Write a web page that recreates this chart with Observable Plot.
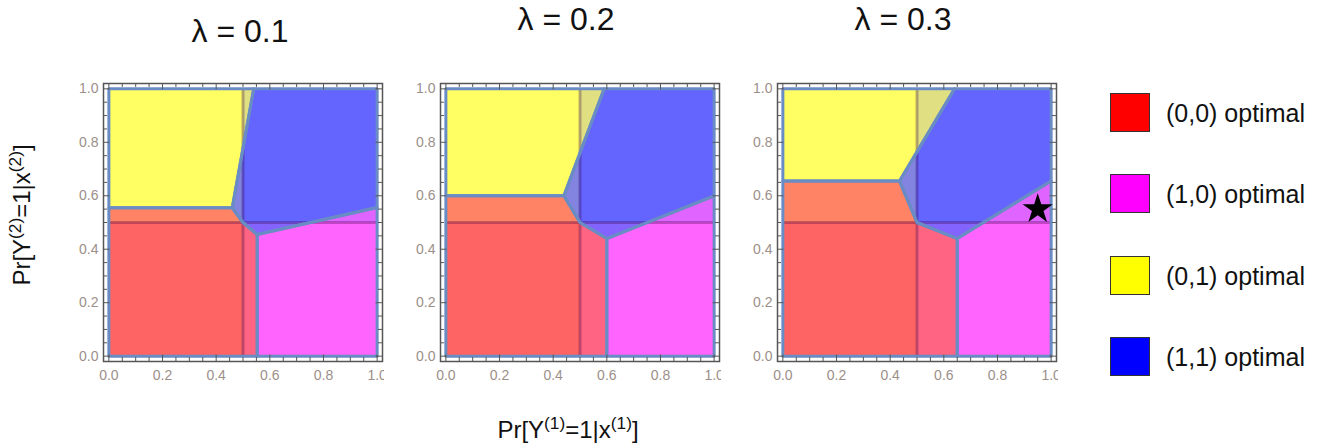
<!DOCTYPE html>
<html><head><meta charset="utf-8">
<script src="https://cdn.jsdelivr.net/npm/d3@7"></script>
<script src="https://cdn.jsdelivr.net/npm/@observablehq/plot@0.6"></script>
<style>
body{margin:0;background:#fff;font-family:"Liberation Sans",Arial,sans-serif;color:#111;}
#wrap{position:relative;width:1330px;height:448px;overflow:hidden;background:#fff;}
.abs{position:absolute;white-space:nowrap;}
.title{font-size:32px;transform:translate(-50%,-50%);}
.axlab{font-size:24px;transform:translate(-50%,-50%);}
.axlab sup{font-size:0.72em;vertical-align:0.5em;line-height:0;}
.leg{font-size:25px;transform:translateY(-50%);}
.sw{position:absolute;width:40px;height:39px;border:1px solid #333;box-sizing:border-box;}
.panel{position:absolute;}
</style></head><body><div id="wrap"></div>
<script>
// ---------------- data ----------------
const lambdaLabels = ["λ = 0.1", "λ = 0.2", "λ = 0.3"];
const regionNames = ["(0,0) optimal", "(1,0) optimal", "(0,1) optimal", "(1,1) optimal"];
const regionColors = ["#ff6464", "#ff64ff", "#ffff64", "#6464ff"];
const legendColors = ["#ff0000", "#ff00ff", "#ffff00", "#0000ff"];
const threshold = 0.5;

// optimal-decision regions, one polygon per panel ([x, y] vertices)
const redRegion = [
  [[0,0],[0.553,0],[0.553,0.455],[0.5,0.5],[0.46,0.555],[0,0.555]],
  [[0,0],[0.6,0],[0.6,0.44],[0.5,0.5],[0.44,0.6],[0,0.6]],
  [[0,0],[0.65,0],[0.65,0.44],[0.5,0.5],[0.435,0.655],[0,0.655]]
];
const magentaRegion = [
  [[0.553,0],[1,0],[1,0.556],[0.553,0.455]],
  [[0.6,0],[1,0],[1,0.6],[0.6,0.44]],
  [[0.65,0],[1,0],[1,0.655],[0.65,0.44]]
];
const yellowRegion = [
  [[0,0.555],[0.46,0.555],[0.54,1],[0,1]],
  [[0,0.6],[0.44,0.6],[0.59,1],[0,1]],
  [[0,0.655],[0.435,0.655],[0.64,1],[0,1]]
];
const blueRegion = [
  [[0.54,1],[1,1],[1,0.556],[0.553,0.455],[0.5,0.5],[0.46,0.555]],
  [[0.59,1],[1,1],[1,0.6],[0.6,0.44],[0.5,0.5],[0.44,0.6]],
  [[0.64,1],[1,1],[1,0.655],[0.65,0.44],[0.5,0.5],[0.435,0.655]]
];
// baseline quadrants (split at threshold)
const quadrants = [
  {x1:0, x2:0.5, y1:0, y2:0.5, color:"#ff6464"},
  {x1:0.5, x2:1, y1:0, y2:0.5, color:"#ff64ff"},
  {x1:0, x2:0.5, y1:0.5, y2:1, color:"#ffff64"},
  {x1:0.5, x2:1, y1:0.5, y2:1, color:"#6464ff"}
];
const starPoints = [[], [], [{x:0.95, y:0.55}]];
const tickValues = [0, 0.2, 0.4, 0.6, 0.8, 1.0];
const minorTickValues = [0,0.05,0.1,0.15,0.2,0.25,0.3,0.35,0.4,0.45,0.5,0.55,0.6,0.65,0.7,0.75,0.8,0.85,0.9,0.95,1.0];

// ---------------- layout ----------------
const wrap = document.getElementById("wrap");
const frameLefts = [102.6, 439.6, 776.6];
const frameTop = 82.7;
const mL = 40, mR = 2, mT = 4, mB = 32, fw = 279, fh = 278;
const lo = -0.02, hi = 1.02;
const tickLen = 0.015, majorLen = 0.024;
const boundary = "#6a8cc4";

function closed(p) { return [...p, p[0]]; }

function panel(i) {
  const polys = [redRegion[i], magentaRegion[i], yellowRegion[i], blueRegion[i]];
  const marks = [];
  polys.forEach((p, k) => marks.push(Plot.line(closed(p), {x: d => d[0], y: d => d[1], fill: regionColors[k], stroke: "none"})));
  marks.push(Plot.rect(quadrants, {x1: "x1", x2: "x2", y1: "y1", y2: "y2", fill: "color", fillOpacity: 0.2}));
  marks.push(Plot.ruleX([threshold], {y1: 0, y2: 1, stroke: "#300040", strokeOpacity: 0.3, strokeWidth: 3}));
  marks.push(Plot.ruleY([threshold], {x1: 0, x2: 1, stroke: "#300040", strokeOpacity: 0.3, strokeWidth: 3}));
  polys.forEach(p => marks.push(Plot.line(closed(p), {x: d => d[0], y: d => d[1], stroke: boundary, strokeWidth: 3, strokeLinejoin: "round"})));
  marks.push(Plot.dot(starPoints[i], {x: "x", y: "y", symbol: "star", r: 9.5, fill: "black", stroke: "none"}));
  // frame ticks (inward)
  const isMajor = v => tickValues.some(t => Math.abs(t - v) < 1e-9);
  const len = v => isMajor(v) ? majorLen : tickLen;
  const tk = {stroke: "#555", strokeWidth: 1};
  marks.push(Plot.ruleX(minorTickValues, {x: d => d, y1: lo, y2: d => lo + len(d), ...tk}));
  marks.push(Plot.ruleX(minorTickValues, {x: d => d, y1: hi, y2: d => hi - len(d), ...tk}));
  marks.push(Plot.ruleY(minorTickValues, {y: d => d, x1: lo, x2: d => lo + len(d), ...tk}));
  marks.push(Plot.ruleY(minorTickValues, {y: d => d, x1: hi, x2: d => hi - len(d), ...tk}));
  marks.push(Plot.frame({stroke: "#555", strokeWidth: 1.5}));
  marks.push(Plot.axisX(tickValues, {tickSize: 0, tickPadding: 9, tickFormat: d3.format(".1f"), fontSize: 14, color: "#9c8f8a", label: null}));
  marks.push(Plot.axisY(tickValues, {tickSize: 0, tickPadding: 5, tickFormat: d3.format(".1f"), fontSize: 14, color: "#9c8f8a", label: null}));
  const svg = Plot.plot({
    width: mL + fw + mR, height: mT + fh + mB,
    marginLeft: mL, marginRight: mR, marginTop: mT, marginBottom: mB,
    x: {domain: [lo, hi]}, y: {domain: [lo, hi]},
    color: {type: "identity"},
    style: {overflow: "hidden", background: "transparent", fontFamily: "Liberation Sans, Arial, sans-serif"},
    marks
  });
  svg.classList.add("panel");
  svg.style.left = (frameLefts[i] - mL) + "px";
  svg.style.top = (frameTop - mT) + "px";
  wrap.appendChild(svg);
}
[0, 1, 2].forEach(panel);

// titles
const titlePos = [[240, 31], [566, 19], [903, 19]];
lambdaLabels.forEach((t, i) => {
  const d = document.createElement("div");
  d.className = "abs title"; d.textContent = t;
  d.style.left = titlePos[i][0] + "px"; d.style.top = titlePos[i][1] + "px";
  wrap.appendChild(d);
});
// axis labels
const xl = document.createElement("div");
xl.className = "abs axlab";
xl.innerHTML = "Pr[Y<sup>(1)</sup>=1|x<sup>(1)</sup>]";
xl.style.left = "568px"; xl.style.top = "430px";
wrap.appendChild(xl);
const yl = document.createElement("div");
yl.className = "abs axlab";
yl.innerHTML = "Pr[Y<sup>(2)</sup>=1|x<sup>(2)</sup>]";
yl.style.left = "22px"; yl.style.top = "215px";
yl.style.transform = "translate(-50%,-50%) rotate(-90deg)";
wrap.appendChild(yl);
// legend
const legTops = [93, 174, 256, 337];
regionNames.forEach((n, i) => {
  const s = document.createElement("div");
  s.className = "sw"; s.style.background = legendColors[i];
  s.style.left = "1110px"; s.style.top = legTops[i] + "px";
  wrap.appendChild(s);
  const t = document.createElement("div");
  t.className = "abs leg"; t.textContent = n;
  t.style.left = "1166px"; t.style.top = (legTops[i] + 20) + "px";
  wrap.appendChild(t);
});
</script></body></html>
